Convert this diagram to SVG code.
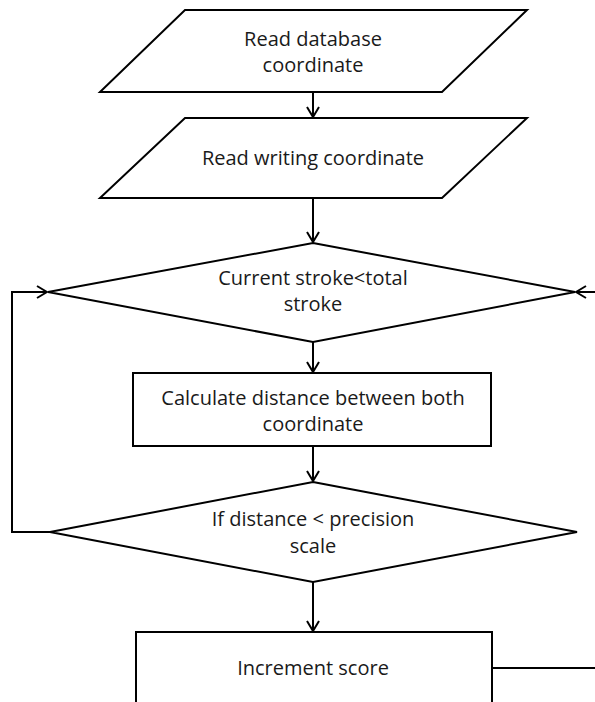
<svg xmlns="http://www.w3.org/2000/svg" width="595" height="702" viewBox="0 0 595 702">
  <style>
    .shape { fill: #ffffff; stroke: #000000; stroke-width: 2; stroke-linejoin: miter; }
    .label { font-family: "Open Sans", "Noto Sans", sans-serif; font-size: 20px; fill: #1a1a1a; text-anchor: middle; }
    .edge { fill: none; stroke: #000000; stroke-width: 2; }
  </style>
  <defs>
    <marker id="arrow" viewBox="0 0 12 14" refX="11" refY="7" markerWidth="12" markerHeight="14" markerUnits="userSpaceOnUse" orient="auto">
      <path d="M1,1 L11,7 L1,13" fill="none" stroke="#000000" stroke-width="2"/>
    </marker>
  </defs>

  <rect width="595" height="702" fill="#ffffff"/>

  <g id="connectors">
    <line class="edge" x1="313" y1="92" x2="313" y2="117" marker-end="url(#arrow)"/>
    <line class="edge" x1="313" y1="198" x2="313" y2="242" marker-end="url(#arrow)"/>
    <line class="edge" x1="313" y1="342" x2="313" y2="372" marker-end="url(#arrow)"/>
    <line class="edge" x1="313" y1="446" x2="313" y2="481" marker-end="url(#arrow)"/>
    <line class="edge" x1="313" y1="582" x2="313" y2="631" marker-end="url(#arrow)"/>
    <polyline class="edge" points="50,532 12,532 12,292 47,292" marker-end="url(#arrow)"/>
    <line class="edge" x1="595" y1="292" x2="576" y2="292" marker-end="url(#arrow)"/>
    <line class="edge" x1="492" y1="668" x2="595" y2="668"/>
  </g>

  <g id="read-database">
    <polygon class="shape" points="185,10 527,10 442,92 100,92"/>
    <text class="label" x="313" y="46">Read database</text>
    <text class="label" x="313" y="72">coordinate</text>
  </g>

  <g id="read-writing">
    <polygon class="shape" points="185,118 527,118 442,198 100,198"/>
    <text class="label" x="313" y="165">Read writing coordinate</text>
  </g>

  <g id="stroke-check">
    <polygon class="shape" points="313,243 575,292 313,342 48,292"/>
    <text class="label" x="313" y="285">Current stroke&lt;total</text>
    <text class="label" x="313" y="311">stroke</text>
  </g>

  <g id="calc-distance">
    <rect class="shape" x="133" y="373" width="358" height="73"/>
    <text class="label" x="313" y="405">Calculate distance between both</text>
    <text class="label" x="313" y="431">coordinate</text>
  </g>

  <g id="precision-check">
    <polygon class="shape" points="313,482 577,532 313,582 50,532"/>
    <text class="label" x="313" y="526">If distance &lt; precision</text>
    <text class="label" x="313" y="553">scale</text>
  </g>

  <g id="increment-score">
    <rect class="shape" x="136" y="632" width="356" height="90"/>
    <text class="label" x="313" y="675">Increment score</text>
  </g>
</svg>
